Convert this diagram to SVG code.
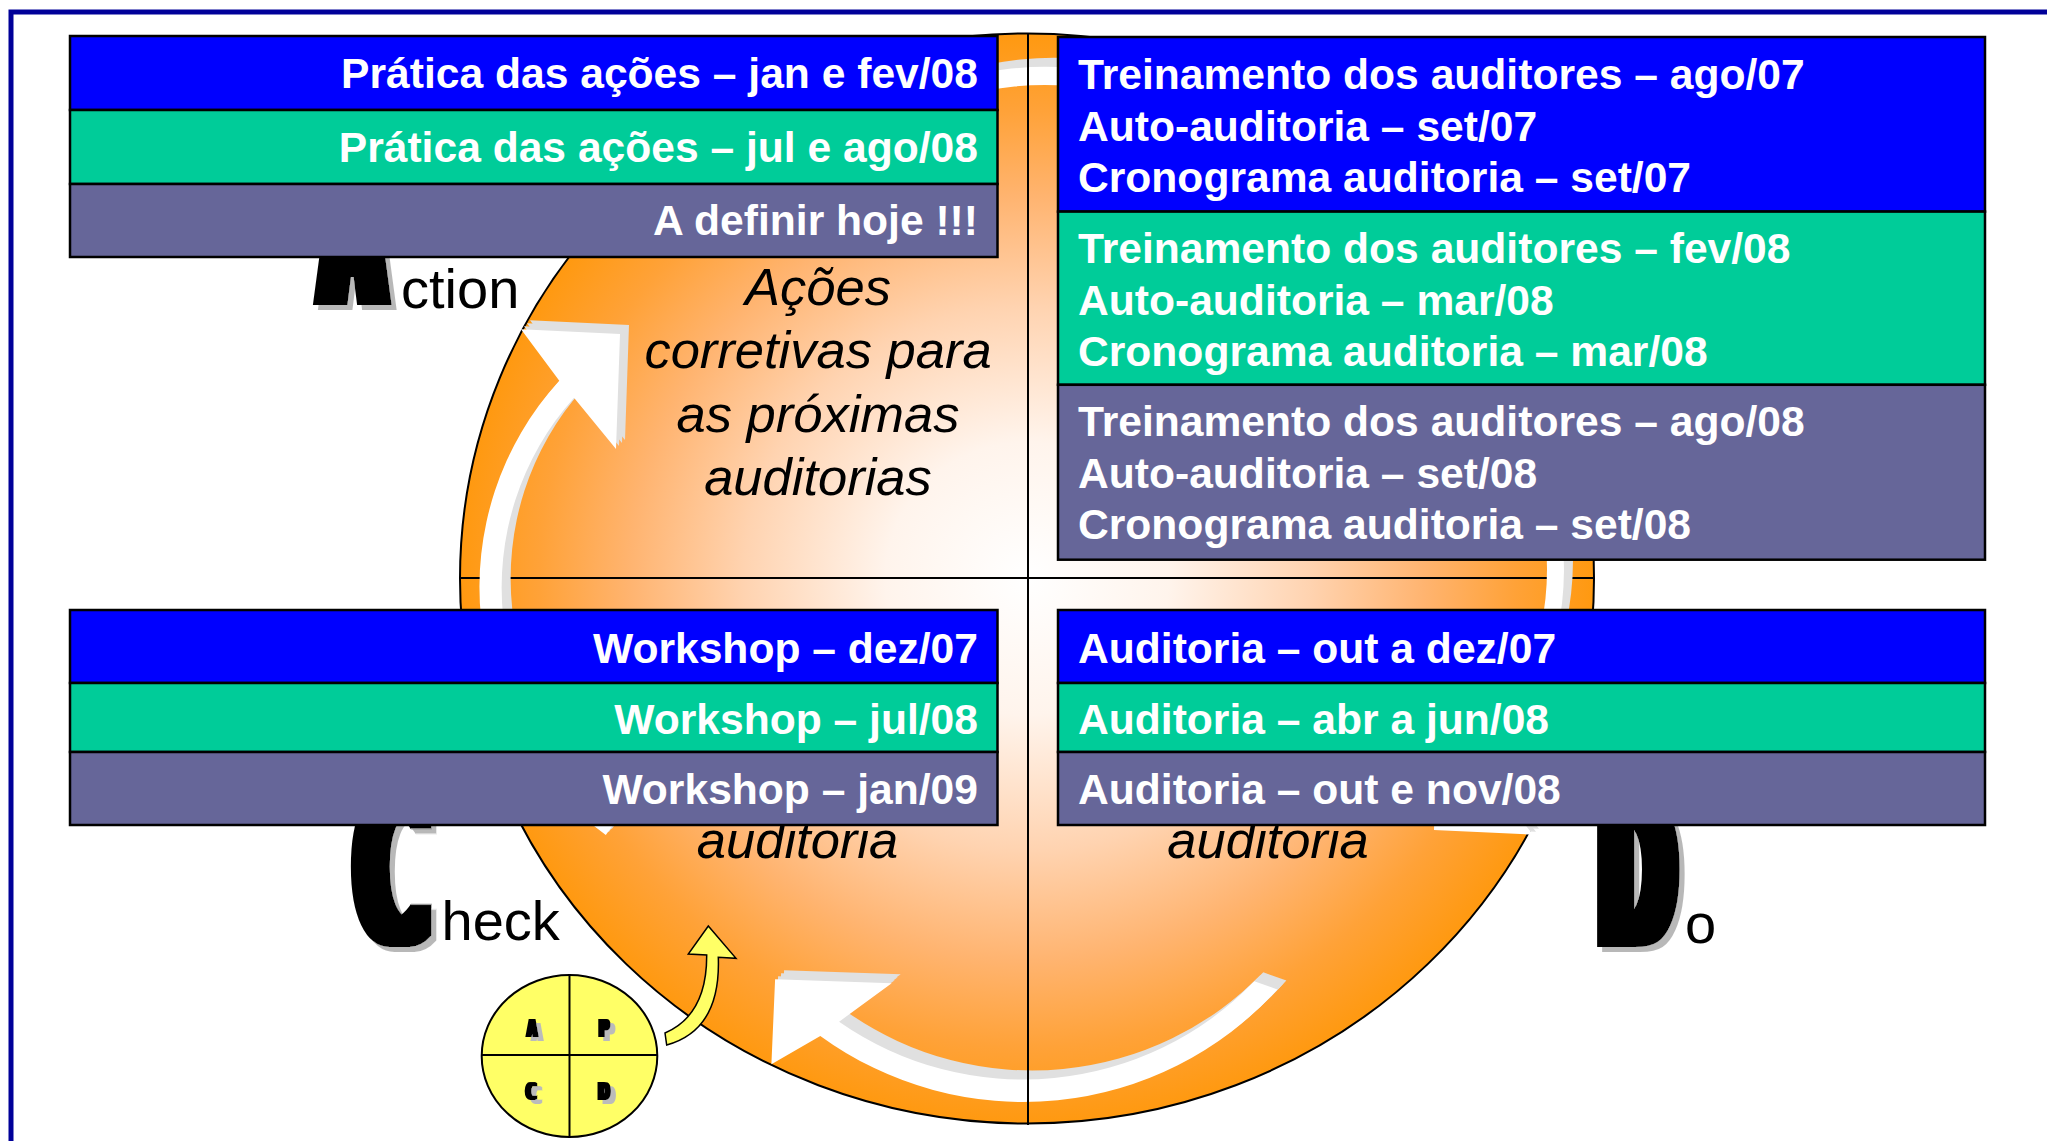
<svg xmlns="http://www.w3.org/2000/svg" xmlns:xlink="http://www.w3.org/1999/xlink" width="2047" height="1141" viewBox="0 0 2047 1141">
<defs>
<style>
.bt{font-family:"Liberation Sans",Arial,sans-serif;font-weight:bold;font-size:42.6px;fill:#fff}
.end{text-anchor:end}
.it{font-family:"Liberation Sans",Arial,sans-serif;font-style:italic;font-size:52.5px;fill:#000;text-anchor:middle}
.rg{font-family:"Liberation Sans",Arial,sans-serif;font-size:56px;fill:#000}
.big{font-family:"DejaVu Sans",sans-serif;font-weight:bold;font-size:212px;fill:#000;text-anchor:middle}
.sm{font-family:"DejaVu Sans",sans-serif;font-weight:bold;font-size:25px;fill:#000;text-anchor:middle}
.row{stroke:#000;stroke-width:2.5}
.blue{fill:#0000FF}.green{fill:#00CC99}.purple{fill:#666699}
.ext{fill:#E0E0E0}
.face{fill:#FFFFFF}
.line{stroke:#000;stroke-width:2;fill:none}
</style>
<radialGradient id="orb" cx="50%" cy="50%" r="50%">
<stop offset="0" stop-color="#FFFFFF"/>
<stop offset="0.25" stop-color="#FFF4EC"/>
<stop offset="0.5" stop-color="#FFD3B0"/>
<stop offset="0.7" stop-color="#FFB470"/>
<stop offset="0.86" stop-color="#FFA238"/>
<stop offset="1" stop-color="#FF9910"/>
</radialGradient>
<filter id="heavy" x="-40%" y="-10%" width="180%" height="125%">
<feMorphology in="SourceAlpha" operator="dilate" radius="9.7 0" result="d"/>
<feOffset in="d" dx="5" dy="5" result="o"/>
<feFlood flood-color="#B8B8B8"/>
<feComposite in2="o" operator="in" result="sh"/>
<feFlood flood-color="#000000"/>
<feComposite in2="d" operator="in" result="fg"/>
<feMerge><feMergeNode in="sh"/><feMergeNode in="fg"/></feMerge>
</filter>
<filter id="heavysm" x="-60%" y="-20%" width="220%" height="150%">
<feMorphology in="SourceAlpha" operator="dilate" radius="1.5 0" result="d"/>
<feOffset in="d" dx="5" dy="4" result="o"/>
<feFlood flood-color="#BBBBBB"/>
<feComposite in2="o" operator="in" result="sh"/>
<feFlood flood-color="#000000"/>
<feComposite in2="d" operator="in" result="fg"/>
<feMerge><feMergeNode in="sh"/><feMergeNode in="fg"/></feMerge>
</filter>
<clipPath id="clipA"><rect x="250" y="257" width="200" height="80"/></clipPath>
<clipPath id="clipC"><rect x="300" y="825" width="200" height="160"/></clipPath>
<clipPath id="clipD"><rect x="1560" y="825" width="200" height="160"/></clipPath>
<path id="arrT" d="M818.4,181.2 A315,315 0 0 1 1225.3,141.7 L1162.3,183.7 L1278.9,187.7 L1282.6,102.7 L1241.3,130.8 A333,333 0 0 0 798.7,175.9 Z"/>
<path id="arrR" d="M1439.5,324.7 A302,302 0 0 1 1484.3,773.4 L1533,834.7 L1434,830 L1438,715 L1473.8,759.7 A285,285 0 0 0 1429.5,338.4 Z"/>
<path id="arrB" d="M1254.3,981.3 A321.5,321.5 0 0 1 839.1,1021.7 L891.7,983.3 L775.1,979.3 L771.4,1064.3 L820.3,1035.9 A344,344 0 0 0 1277.4,989.5 Z"/>
<path id="arrL" d="M605.8,835 A306.5,306.5 0 0 1 559.3,380.7 L521,329.3 L620,334 L616,449 L574,397.7 A285,285 0 0 0 618.5,817.6 Z"/>
</defs>

<rect width="2047" height="1141" fill="#FFFFFF"/>

<g id="cycle">
<ellipse cx="1027" cy="578.5" rx="567" ry="545" fill="url(#orb)" stroke="#000" stroke-width="2"/>
<line class="line" x1="460" y1="578" x2="1594" y2="578"/>
</g>

<g id="connectors">
<g class="ext">
<use xlink:href="#arrT" transform="translate(3,-3)"/><use xlink:href="#arrT" transform="translate(6,-6)"/><use xlink:href="#arrT" transform="translate(9,-9)"/>
<use xlink:href="#arrR" transform="translate(3,-3)"/><use xlink:href="#arrR" transform="translate(6,-6)"/><use xlink:href="#arrR" transform="translate(9,-9)"/>
<use xlink:href="#arrB" transform="translate(3,-3)"/><use xlink:href="#arrB" transform="translate(6,-6)"/><use xlink:href="#arrB" transform="translate(9,-9)"/>
<use xlink:href="#arrL" transform="translate(3,-3)"/><use xlink:href="#arrL" transform="translate(6,-6)"/><use xlink:href="#arrL" transform="translate(9,-9)"/>
</g>
<g class="face">
<use xlink:href="#arrT"/><use xlink:href="#arrR"/><use xlink:href="#arrB"/><use xlink:href="#arrL"/>
</g>
</g>

<line class="line" x1="1028" y1="33" x2="1028" y2="1125"/>

<g id="phase-texts">
<text class="it" x="818" y="305">Ações</text>
<text class="it" x="818" y="368">corretivas para</text>
<text class="it" x="818" y="432">as próximas</text>
<text class="it" x="818" y="495">auditorias</text>
<text class="it" x="797.5" y="858">auditoria</text>
<text class="it" x="1268" y="858">auditoria</text>
</g>

<g id="label-action">
<g clip-path="url(#clipA)"><g filter="url(#heavy)"><text class="big" transform="translate(352.2,305) scale(0.363,1)">A</text></g></g>
<text class="rg" x="401" y="308">ction</text>
</g>
<g id="label-check">
<g clip-path="url(#clipC)"><g filter="url(#heavy)"><text class="big" transform="translate(391.7,944) scale(0.46,1)">C</text></g></g>
<text class="rg" x="441.5" y="940">heck</text>
</g>
<g id="label-do">
<g clip-path="url(#clipD)"><g filter="url(#heavy)"><text class="big" transform="translate(1636.7,947) scale(0.43,1)">D</text></g></g>
<text class="rg" x="1685" y="943">o</text>
</g>

<g id="box-action">
<rect class="row blue" x="70" y="36" width="927.5" height="74"/>
<rect class="row green" x="70" y="110" width="927.5" height="74"/>
<rect class="row purple" x="70" y="184" width="927.5" height="73"/>
<text class="bt end" x="978" y="88">Prática das ações – jan e fev/08</text>
<text class="bt end" x="978" y="162">Prática das ações – jul e ago/08</text>
<text class="bt end" x="978" y="235">A definir hoje !!!</text>
</g>

<g id="box-plan">
<rect class="row blue" x="1058" y="37" width="927" height="174.6"/>
<rect class="row green" x="1058" y="211.6" width="927" height="173.2"/>
<rect class="row purple" x="1058" y="384.8" width="927" height="174.9"/>
<text class="bt" x="1078" y="89">Treinamento dos auditores – ago/07</text>
<text class="bt" x="1078" y="140.5">Auto-auditoria – set/07</text>
<text class="bt" x="1078" y="192">Cronograma auditoria – set/07</text>
<text class="bt" x="1078" y="263">Treinamento dos auditores – fev/08</text>
<text class="bt" x="1078" y="314.5">Auto-auditoria – mar/08</text>
<text class="bt" x="1078" y="366">Cronograma auditoria – mar/08</text>
<text class="bt" x="1078" y="436">Treinamento dos auditores – ago/08</text>
<text class="bt" x="1078" y="487.5">Auto-auditoria – set/08</text>
<text class="bt" x="1078" y="539">Cronograma auditoria – set/08</text>
</g>

<g id="box-check">
<rect class="row blue" x="70" y="610" width="927.5" height="73"/>
<rect class="row green" x="70" y="683" width="927.5" height="69"/>
<rect class="row purple" x="70" y="752" width="927.5" height="73"/>
<text class="bt end" x="978" y="662.5">Workshop – dez/07</text>
<text class="bt end" x="978" y="733.5">Workshop – jul/08</text>
<text class="bt end" x="978" y="804">Workshop – jan/09</text>
</g>

<g id="box-do">
<rect class="row blue" x="1058" y="610" width="927" height="73"/>
<rect class="row green" x="1058" y="683" width="927" height="69"/>
<rect class="row purple" x="1058" y="752" width="927" height="73"/>
<text class="bt" x="1078" y="662.5">Auditoria – out a dez/07</text>
<text class="bt" x="1078" y="733.5">Auditoria – abr a jun/08</text>
<text class="bt" x="1078" y="804">Auditoria – out e nov/08</text>
</g>

<g id="pdca-icon">
<ellipse cx="569.5" cy="1056" rx="87.8" ry="81" fill="#FFFF66" stroke="#000" stroke-width="2"/>
<line class="line" x1="569.5" y1="975" x2="569.5" y2="1137"/>
<line class="line" x1="481.7" y1="1055" x2="657.3" y2="1055"/>
<g filter="url(#heavysm)"><text class="sm" transform="translate(532,1036.7) scale(0.5,1)">A</text></g>
<g filter="url(#heavysm)"><text class="sm" transform="translate(604,1036.7) scale(0.55,1)">P</text></g>
<g filter="url(#heavysm)"><text class="sm" transform="translate(531,1100) scale(0.55,1)">C</text></g>
<g filter="url(#heavysm)"><text class="sm" transform="translate(604,1100) scale(0.55,1)">D</text></g>
<path d="M665,1033 Q707,1015 706.7,955 L688.3,954 L708.3,926 L736,958.3 L718.3,957.3 Q721,1030 666.7,1045 Z" fill="#FFFF66" stroke="#000" stroke-width="1.5" stroke-linejoin="miter"/>
</g>

<path id="frame" d="M11,1141 L11,12 L2047,12" fill="none" stroke="#000099" stroke-width="5"/>
</svg>
